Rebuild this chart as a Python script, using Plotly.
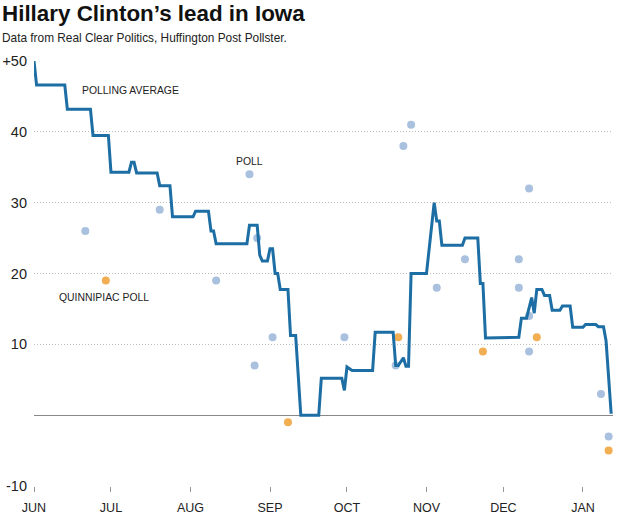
import plotly.graph_objects as go

# Polling average (step line vertices)
avg_dates = [
    "2015-06-01", "2015-06-02", "2015-06-13", "2015-06-14", "2015-06-23", "2015-06-24",
    "2015-06-30", "2015-07-01", "2015-07-08", "2015-07-09", "2015-07-10", "2015-07-11",
    "2015-07-19", "2015-07-20", "2015-07-24", "2015-07-25", "2015-08-02", "2015-08-03",
    "2015-08-08", "2015-08-09", "2015-08-10", "2015-08-11", "2015-08-23", "2015-08-24",
    "2015-08-27", "2015-08-28", "2015-08-29", "2015-08-31", "2015-09-01", "2015-09-02",
    "2015-09-03", "2015-09-04", "2015-09-05", "2015-09-08", "2015-09-09", "2015-09-11",
    "2015-09-13", "2015-09-20", "2015-09-21", "2015-09-29", "2015-09-30", "2015-10-01",
    "2015-10-03", "2015-10-11", "2015-10-12", "2015-10-19", "2015-10-20", "2015-10-21",
    "2015-10-23", "2015-10-24", "2015-10-25", "2015-10-26", "2015-11-01", "2015-11-02",
    "2015-11-04", "2015-11-05", "2015-11-06", "2015-11-07", "2015-11-15", "2015-11-16",
    "2015-11-21", "2015-11-22", "2015-11-23", "2015-11-24", "2015-12-07", "2015-12-08",
    "2015-12-10", "2015-12-12", "2015-12-13", "2015-12-14", "2015-12-16", "2015-12-17",
    "2015-12-19", "2015-12-20", "2015-12-23", "2015-12-24", "2015-12-27", "2015-12-28",
    "2016-01-01", "2016-01-02", "2016-01-06", "2016-01-07", "2016-01-09", "2016-01-10",
    "2016-01-12",
]
avg_values = [
    50.0, 46.6, 46.6, 43.2, 43.2, 39.5,
    39.5, 34.3, 34.3, 35.7, 35.7, 34.2,
    34.2, 32.4, 32.4, 28.0, 28.0, 28.8,
    28.8, 26.0, 26.0, 24.2, 24.2, 26.8,
    26.8, 22.6, 21.75, 21.75, 23.5, 23.5,
    20.0, 20.0, 17.75, 17.75, 11.25, 11.25,
    0.0, 0.0, 5.2, 5.2, 3.5, 6.8,
    6.3, 6.3, 11.7, 11.7, 7.0, 7.0,
    8.1, 6.9, 6.9, 20.0, 20.0, 23.6,
    30.0, 27.4, 27.4, 24.0, 24.0, 25.0,
    25.0, 18.6, 18.6, 10.9, 11.0, 13.7,
    13.7, 16.6, 14.4, 17.75, 17.75, 16.9,
    16.9, 14.8, 14.8, 15.4, 15.4, 12.4,
    12.4, 12.8, 12.8, 12.5, 12.5, 10.5,
    0.2,
]

# Individual polls
poll_dates = [
    "2015-06-21", "2015-07-20", "2015-08-11", "2015-08-24", "2015-08-27", "2015-08-26",
    "2015-09-02", "2015-09-30", "2015-10-20", "2015-10-23", "2015-10-26", "2015-11-05",
    "2015-11-16", "2015-12-07", "2015-12-07", "2015-12-11", "2015-12-11", "2015-12-11",
    "2016-01-08", "2016-01-11",
]
poll_values = [
    26, 29, 19, 34, 25, 7,
    11, 11, 7, 38, 41, 18,
    22, 22, 18, 32, 9, 14,
    3, -3,
]

# Quinnipiac polls
quin_dates = ["2015-06-29", "2015-09-08", "2015-10-21", "2015-11-23", "2015-12-14", "2016-01-11"]
quin_values = [19, -1, 11, 9, 11, -5]

tick_dates = ["2015-06-01", "2015-07-01", "2015-08-01", "2015-09-01", "2015-10-01",
              "2015-11-01", "2015-12-01", "2016-01-01"]
tick_labels = ["JUN", "JUL", "AUG", "SEP", "OCT", "NOV", "DEC", "JAN"]
y_ticks = [-10, 10, 20, 30, 40, 50]
y_tick_labels = ["-10", "10", "20", "30", "40", "+50"]

FONT = "Liberation Sans, Arial, sans-serif"

fig = go.Figure()
fig.add_trace(go.Scatter(
    x=poll_dates, y=poll_values, mode="markers",
    marker=dict(size=8, color="#a9c1de"), hoverinfo="skip", showlegend=False,
))
fig.add_trace(go.Scatter(
    x=quin_dates, y=quin_values, mode="markers",
    marker=dict(size=8, color="#f2ae52"), hoverinfo="skip", showlegend=False,
))
fig.add_trace(go.Scatter(
    x=avg_dates, y=avg_values, mode="lines",
    line=dict(color="#1c6ea4", width=3), hoverinfo="skip", showlegend=False,
))

fig.update_layout(
    width=620, height=516,
    margin=dict(l=34, r=7, t=61, b=30),
    paper_bgcolor="white", plot_bgcolor="white",
    font=dict(family=FONT, color="#222"),
    xaxis=dict(
        type="date", automargin=False,
        range=["2015-06-01", "2016-01-12 17:00"],
        tickvals=tick_dates, ticktext=tick_labels,
        showgrid=False, zeroline=False, showline=False,
        ticks="outside", ticklen=5, tickcolor="#999", tickwidth=1,
        tickfont=dict(size=12.5, color="#222"),
        ticklabelstandoff=5,
    ),
    yaxis=dict(
        range=[-10, 50], automargin=False,
        tickvals=y_ticks, ticktext=y_tick_labels,
        showgrid=True, gridcolor="#bdbdbd", griddash="1px,2px", gridwidth=1,
        zeroline=True, zerolinecolor="#888", zerolinewidth=1,
        showline=False, ticks="",
        tickfont=dict(size=14.5, color="#222"),
        ticklabelstandoff=6,
    ),
    annotations=[
        dict(text="<b>Hillary Clinton’s lead in Iowa</b>", xref="paper", yref="paper",
             x=-34/579, y=1 + 61/425, xanchor="left", yanchor="top", showarrow=False,
             font=dict(size=22.4, color="#111", family=FONT), yshift=1),
        dict(text="Data from Real Clear Politics, Huffington Post Pollster.", xref="paper", yref="paper",
             x=-34/579, y=1 + 61/425, xanchor="left", yanchor="top", showarrow=False,
             font=dict(size=11.85, color="#222", family=FONT), yshift=-29),
        dict(text="POLLING AVERAGE", x="2015-06-19", y=45.9, xanchor="left", yanchor="middle",
             showarrow=False, font=dict(size=10.4, color="#222")),
        dict(text="POLL", x="2015-08-18", y=35.8, xanchor="left", yanchor="middle",
             showarrow=False, font=dict(size=10.4, color="#222")),
        dict(text="QUINNIPIAC POLL", x="2015-06-10", y=16.6, xanchor="left", yanchor="middle",
             showarrow=False, font=dict(size=10.4, color="#222")),
    ],
)

fig.write_html("out.html", config={"displayModeBar": False},
               post_script="document.body.style.margin='0';")
